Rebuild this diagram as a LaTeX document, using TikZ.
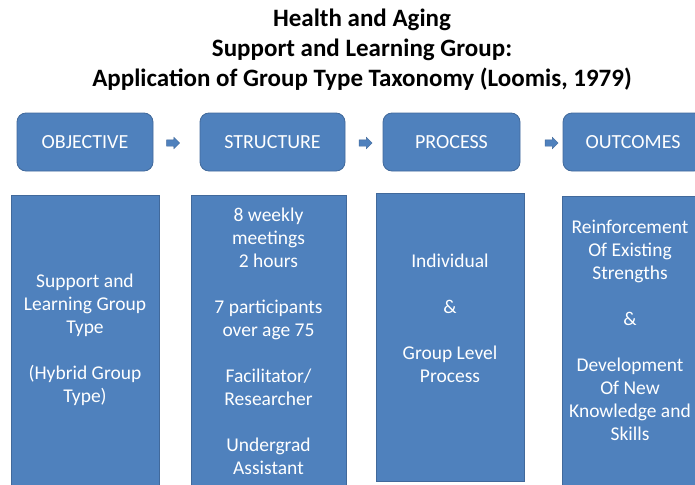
\documentclass[tikz,border=0pt]{standalone}
\usepackage{fontspec}
\setmainfont{Carlito}
\usepackage{tikz}
\usetikzlibrary{positioning, shapes.arrows}
\definecolor{boxblue}{HTML}{4F81BD}
\definecolor{boxline}{HTML}{41699B}

\begin{document}
\begin{tikzpicture}[
        x=1pt, y=-1pt,
        hdr/.style={draw=boxline, fill=boxblue, line width=0.8pt,
          rounded corners=9pt, minimum height=58pt, text=white,
          font=\fontsize{20}{23}\selectfont},
        bodybox/.style={draw=boxline, fill=boxblue, line width=0.8pt},
        bodytxt/.style={text=white, align=center,
          font=\fontsize{19.5}{23}\selectfont},
        flowarrow/.style={single arrow, fill=boxblue, draw=boxline,
          line width=0.4pt, inner sep=3pt, minimum height=13pt,
          single arrow head extend=2.5pt}
      ]
      \useasboundingbox (0,0) rectangle (695,484);
      \clip (0,0) rectangle (695,484);
      \node[align=center, font=\bfseries\fontsize{25}{30}\selectfont] (title) at (362,50)
        {Health and Aging\\Support and Learning Group:\\Application of Group Type Taxonomy (Loomis, 1979)};
      % header row
      \node[hdr, minimum width=136pt] (obj) at (85,142) {OBJECTIVE};
      \node[hdr, minimum width=145pt] (str) at (272.5,142) {STRUCTURE};
      \node[hdr, minimum width=137pt] (proc) at (451.5,142) {PROCESS};
      \node[hdr, minimum width=140pt] (out) at (633,142) {OUTCOMES};
      \node[flowarrow] (a1) at (171.5,143) {};
      \node[flowarrow] (a2) at (364,143) {};
      \node[flowarrow] (a3) at (550,143) {};
      % body boxes
      \node[bodybox, minimum width=148pt, minimum height=320pt] (objbody) at (85,355) {};
      \node[bodybox, minimum width=155pt, minimum height=320pt] (strbody) at (268.5,355) {};
      \node[bodybox, minimum width=148pt, minimum height=288pt] (procbody) at (450,337) {};
      \node[bodybox, minimum width=150pt, minimum height=320pt] (outbody) at (637,356) {};
      \node[bodytxt] (objtxt) at (85,340)
        {Support and\\Learning Group\\Type\\[23pt](Hybrid Group\\Type)};
      \node[bodytxt] (strtxt) at (268.5,341)
        {8 weekly\\meetings\\2 hours\\[23pt]7 participants\\over age 75\\[23pt]Facilitator/\\Researcher\\[23pt]Undergrad\\Assistant};
      \node[bodytxt] (proctxt) at (450,318)
        {Individual\\[23pt]\&\\[23pt]Group Level\\Process};
      \node[bodytxt] (outtxt) at (630,330)
        {Reinforcement\\Of Existing\\Strengths\\[23pt]\&\\[23pt]Development\\Of New\\Knowledge and\\Skills};
    \end{tikzpicture}
\end{document}
